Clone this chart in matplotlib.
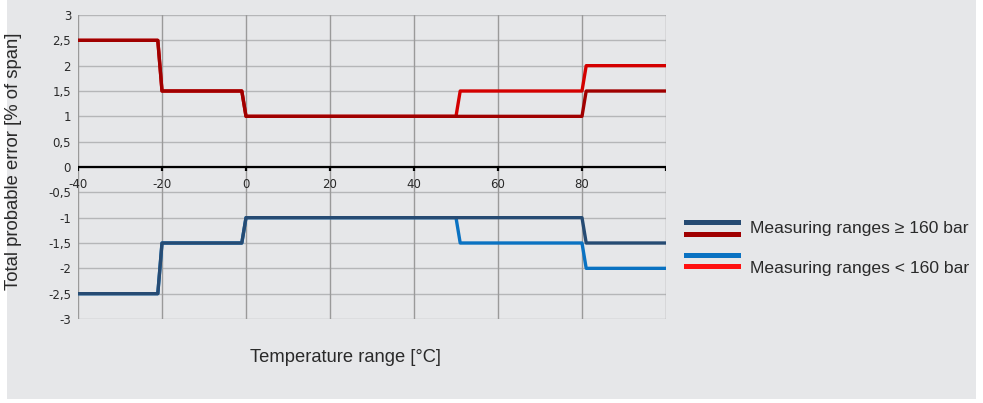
import matplotlib.pyplot as plt
from matplotlib.patches import Rectangle
from matplotlib.lines import Line2D

# temperature breakpoints [°C]
temps_hi = [-40, -21, -20, -1, 0, 80, 81, 100]
err_hi = [2.5, 2.5, 1.5, 1.5, 1.0, 1.0, 1.5, 1.5]          # >= 160 bar, upper
err_hi_neg = [-2.5, -2.5, -1.5, -1.5, -1.0, -1.0, -1.5, -1.5]  # >= 160 bar, lower

temps_lo = [-40, -21, -20, -1, 0, 50, 51, 80, 81, 100]
err_lo = [2.5, 2.5, 1.5, 1.5, 1.0, 1.0, 1.5, 1.5, 2.0, 2.0]          # < 160 bar, upper
err_lo_neg = [-2.5, -2.5, -1.5, -1.5, -1.0, -1.0, -1.5, -1.5, -2.0, -2.0]  # < 160 bar, lower

x_ticks = [-40, -20, 0, 20, 40, 60, 80]
y_ticks = [-3, -2.5, -2, -1.5, -1, -0.5, 0, 0.5, 1, 1.5, 2, 2.5, 3]
y_labels = ['-3', '-2,5', '-2', '-1,5', '-1', '-0,5', '0', '0,5', '1', '1,5', '2', '2,5', '3']

navy = '#264b73'
dark_red = '#a00000'
blue = '#0a72c2'
red = '#d40000'
bg = '#e6e7e9'

plt.rcParams['font.family'] = ['Liberation Sans', 'DejaVu Sans']

W, H = 983, 403
fig = plt.figure(figsize=(W / 100, H / 100), dpi=100)
fig.patches.append(Rectangle((7 / W, 4 / H), 969 / W, 1 - 4 / H, transform=fig.transFigure,
                             facecolor=bg, edgecolor='none', zorder=-5))

ax = fig.add_axes([78 / W, 1 - 319 / H, 588 / W, 304 / H])
ax.set_zorder(2)
ax.set_facecolor('none')
ax.set_xlim(-40, 100)
ax.set_ylim(-3, 3)

for y in y_ticks:
    ax.axhline(y, color='#b5b6b8', lw=1.0, zorder=1)
for x in x_ticks + [100]:
    ax.axvline(x, color='#9a9a9a', lw=1.0, zorder=1)
ax.axhline(0, color='black', lw=1.6, zorder=2)
for x in x_ticks + [100]:
    ax.plot([x, x], [0, -0.07], color='black', lw=1.6, zorder=2, solid_capstyle='butt')

ax.plot(temps_lo, err_lo, color=red, lw=2.4, zorder=3)
ax.plot(temps_hi, err_hi, color=dark_red, lw=2.4, zorder=4)
ax.plot(temps_lo, err_lo_neg, color=blue, lw=2.4, zorder=3)
ax.plot(temps_hi, err_hi_neg, color=navy, lw=2.4, zorder=4)

for s in ax.spines.values():
    s.set_visible(False)
ax.set_xticks([])
ax.set_yticks(y_ticks)
ax.set_yticklabels(y_labels, fontsize=8.5, color='#2a2a2a')
ax.tick_params(axis='y', length=0, pad=5)
for x in x_ticks:
    ax.text(x, -0.22, str(x), ha='center', va='top', fontsize=8.5, color='#2a2a2a',
            family='DejaVu Sans')
for lab in ax.get_yticklabels():
    lab.set_family('DejaVu Sans')

fig.text(14 / W, 1 - 161 / H, 'Total probable error [% of span]', rotation=90,
         ha='center', va='center', fontsize=13.3, color='#2a2a2a')
fig.text(345 / W, 1 - 358 / H, 'Temperature range [°C]', ha='center', va='center',
         fontsize=13.2, color='#2a2a2a')

# legend drawn by hand
leg_items = [(222, navy), (234, dark_red), (255, blue), (266, '#ff1010')]
for y, c in leg_items:
    fig.add_artist(Line2D([686 / W, 738 / W], [1 - y / H, 1 - y / H], color=c, lw=3.6,
                          transform=fig.transFigure))
fig.text(750 / W, 1 - 229 / H, 'Measuring ranges ≥ 160 bar', ha='left', va='center',
         fontsize=12.6, color='#2a2a2a')
fig.text(750 / W, 1 - 268 / H, 'Measuring ranges < 160 bar', ha='left', va='center',
         fontsize=12.6, color='#2a2a2a')

fig.savefig('out.png', dpi=100, facecolor='white')
